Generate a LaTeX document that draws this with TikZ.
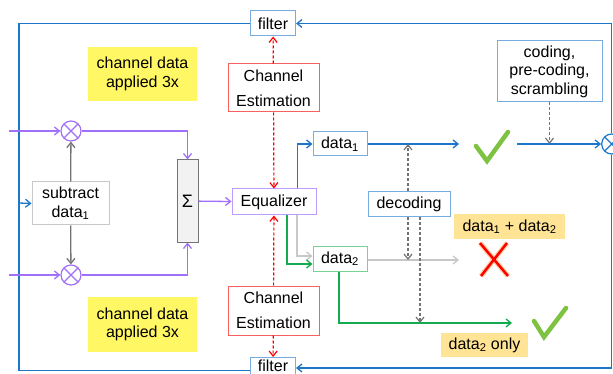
\documentclass[tikz,border=0pt]{standalone}
\usepackage{fontspec}
\setmainfont{Liberation Sans}
\usetikzlibrary{arrows.meta}
\definecolor{lineblue}{RGB}{30,118,200}
\definecolor{boxblue}{RGB}{120,172,222}
\definecolor{purp}{RGB}{160,112,250}
\definecolor{boxpurp}{RGB}{190,155,255}
\definecolor{estred}{RGB}{250,95,95}
\definecolor{grn}{RGB}{20,170,80}
\definecolor{boxgrn}{RGB}{120,210,150}
\definecolor{lgray}{RGB}{200,200,200}
\definecolor{dgray}{RGB}{115,115,115}
\definecolor{notey}{RGB}{255,248,100}
\definecolor{noteo}{RGB}{255,228,150}
\definecolor{tick}{RGB}{125,195,65}
\tikzset{box/.style={draw, fill=white, line width=1pt, inner sep=0pt, align=center,
  font=\fontsize{16}{18.5}\selectfont}}
\tikzset{note/.style={inner sep=0pt, align=center, font=\fontsize{16}{18.5}\selectfont}}
\tikzset{mix/.style={circle, line width=1.2pt, minimum size=20pt, inner sep=0pt,
  path picture={\draw[line width=1.2pt] (path picture bounding box.north west) -- (path picture bounding box.south east)
    (path picture bounding box.north east) -- (path picture bounding box.south west);}}}
\tikzset{edge/.style={line width=1.3pt, -{Straight Barb[length=5pt,width=8pt]}}}
\tikzset{dashedge/.style={edge, line width=1.2pt, dash pattern=on 3pt off 2pt}}

\begin{document}
\begin{tikzpicture}[x=1pt, y=-1pt]
  \useasboundingbox (0,0) rectangle (613,374);

  % boxes
  \node[box, draw=boxblue, minimum width=45, minimum height=25] (filtA) at (273,23.5) {filter};
  \node[box, draw=boxblue, minimum width=45, minimum height=17] (filtB) at (273,366) {filter};
  \node[box, draw=estred, minimum width=91, minimum height=48, font=\fontsize{16}{25}\selectfont] (ceA) at (273.5,88) {Channel\\Estimation};
  \node[box, draw=estred, minimum width=91, minimum height=49, font=\fontsize{16}{25}\selectfont] (ceB) at (273.5,310.5) {Channel\\Estimation};
  \node[box, draw=boxpurp, minimum width=84, minimum height=26] (eq) at (274,202) {Equalizer};
  \node[box, draw=dgray, fill=black!5, minimum width=21, minimum height=82, font=\fontsize{18}{20}\selectfont] (sig) at (187.5,201) {Σ};
  \node[box, draw=lgray, minimum width=77, minimum height=43] (sub) at (70.5,203.5) {subtract\\data\textsubscript{1}};
  \node[mix, draw=purp] (mixA) at (71,131) {};
  \node[mix, draw=purp] (mixB) at (71,275) {};
  \node[mix, draw=lineblue] (mixC) at (611.7,144) {};
  \node[box, draw=boxblue, minimum width=54, minimum height=24] (d1) at (340,144) {data\textsubscript{1}};
  \node[box, draw=boxgrn, minimum width=54, minimum height=25] (d2) at (340,258.5) {data\textsubscript{2}};
  \node[box, draw=boxblue, minimum width=82, minimum height=25] (dec) at (409,204.5) {decoding};
  \node[box, draw=boxblue, minimum width=105, minimum height=61] (cod) at (549.5,71.5) {coding,\\pre-coding,\\scrambling};

  % notes
  \node[note, fill=notey, minimum width=109, minimum height=54] (noteA) at (142.5,74) {channel data\\applied 3x};
  \node[note, fill=notey, minimum width=109, minimum height=55] (noteB) at (142.5,324.5) {channel data\\applied 3x};
  \node[note, fill=noteo, minimum width=111, minimum height=25] (both) at (509.5,226.5) {data\textsubscript{1} + data\textsubscript{2}};
  \node[note, fill=noteo, minimum width=87, minimum height=24] (only) at (484.5,345) {data\textsubscript{2} only};

  \coordinate (in1) at (9,131);
  \coordinate (in2) at (9,275);
  \coordinate (loopL) at (19,203);
  \coordinate (d1end) at (459,144);
  \coordinate (cstart) at (517,144);
  \coordinate (gend) at (459,260);
  \coordinate (grend) at (512,323);

  % feedback loop
  \draw[edge, color=lineblue] (mixC.north) |- (filtA.east);
  \draw[edge, color=lineblue] (mixC.south) |- ([yshift=-2pt]filtB.east);
  \draw[line width=1.3pt, color=lineblue] (filtA.west) -| (loopL) |- ([yshift=-4.5pt]filtB.west);
  \draw[edge, color=lineblue] (loopL) -- (sub.west);

  % combining
  \draw[edge, color=purp] (in1) -- (mixA);
  \draw[edge, color=purp] (in2) -- (mixB);
  \draw[edge, color=purp] (mixA) -| (sig.north);
  \draw[edge, color=purp] (mixB) -| (sig.south);
  \draw[edge, color=purp] (sig) -- (eq);
  \draw[edge, color=dgray] (sub) -- (mixA);
  \draw[edge, color=dgray] (sub) -- (mixB);

  % channel estimation
  \draw[dashedge, color=red] (ceA) -- (filtA);
  \draw[dashedge, color=red] (ceA) -- (eq);
  \draw[dashedge, color=red] (ceB) -- (eq);
  \draw[dashedge, color=red] (ceB) -- (filtB);

  % equalizer outputs
  \draw[edge, color=lineblue] ([xshift=23.7pt]eq.north) |- (d1);
  \draw[edge, color=lgray] ([xshift=23pt]eq.south) |- ([yshift=2.5pt]d2.west);
  \draw[edge, color=grn] ([xshift=13pt]eq.south) |- ([yshift=-5.5pt]d2.west);
  \draw[edge, color=lineblue] (d1) -- (d1end);
  \draw[edge, color=lgray] (d2.east |- gend) -- (gend);
  \draw[edge, color=grn] ([xshift=-1pt]d2.south) |- (grend);
  \draw[edge, color=lineblue] (cstart) -- (mixC);
  \draw[dashedge, color=dgray] (cod.south) -- (cod.south |- cstart);

  % decoding
  \draw[dashedge, color=dgray] ([xshift=-1pt]dec.north) -- ([xshift=-1pt]dec.north |- d1end);
  \draw[dashedge, color=dgray] ([xshift=-1pt]dec.south) -- ([xshift=-1pt]dec.south |- gend);
  \draw[dashedge, color=dgray] ([xshift=11pt]dec.south) -- ([xshift=11pt]dec.south |- grend);

  % ticks and cross
  \draw[line width=4.5pt, color=tick, line cap=round, line join=miter] (476,146) -- (487,161) -- (508,132);
  \draw[line width=4.5pt, color=tick, line cap=round, line join=miter] (534,321) -- (544,337) -- (566,308);
  \draw[line width=5pt, color=orange!60, opacity=.6] (480,243) -- (508,276) (507,243) -- (481,276);
  \draw[line width=2.5pt, color=red] (480,243) -- (508,276) (507,243) -- (481,276);
\end{tikzpicture}
\end{document}
